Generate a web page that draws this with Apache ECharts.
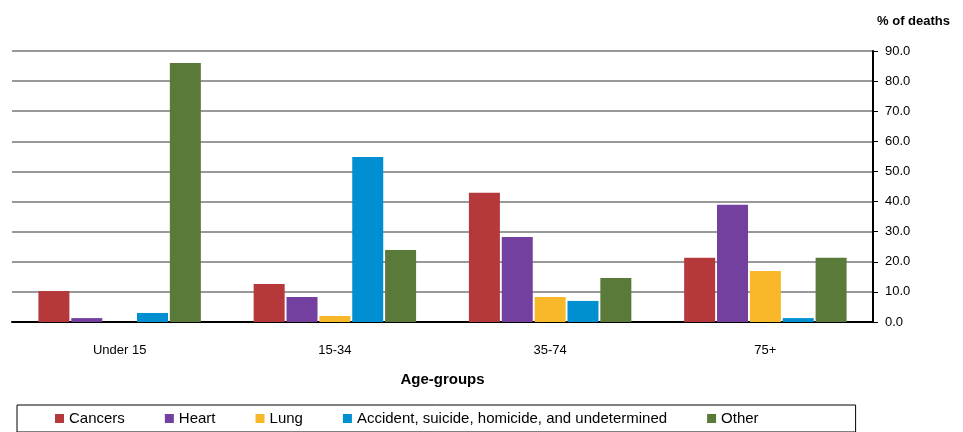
<!DOCTYPE html>
<html>
<head>
<meta charset="utf-8" />
<script src="https://cdn.jsdelivr.net/npm/echarts@6/dist/echarts.min.js"></script>
<style>
  html, body { margin: 0; padding: 0; background: #fff; }
  #main { width: 963px; height: 432px; }
</style>
</head>
<body>
<div id="main"></div>
<script>
var categories = ['Under 15', '15-34', '35-74', '75+'];
var cancers = [10.3, 12.6, 42.9, 21.3];
var heart = [1.3, 8.3, 28.2, 38.9];
var lung = [0, 2.0, 8.3, 16.9];
var accident = [3.0, 54.8, 7.0, 1.3];
var other = [86.0, 23.9, 14.6, 21.3];

var chart = echarts.init(document.getElementById('main'));
function s(name, data, color) {
  return { name: name, type: 'bar', data: data, barWidth: 31, barGap: '6%',
    itemStyle: { color: color }, emphasis: { disabled: true } };
}
chart.setOption({
  animation: false,
  textStyle: { fontFamily: 'Arial, Liberation Sans, sans-serif' },
  grid: { left: 12, right: 90, top: 51, bottom: 110 },
  title: { text: '% of deaths', right: 8, top: 10,
    textStyle: { fontSize: 13, fontWeight: 'bold', color: '#000' } },
  legend: {
    left: 17, bottom: 0, itemWidth: 9, itemHeight: 9, itemGap: 40,
    icon: 'rect', borderColor: '#000', borderWidth: 1, padding: [6, 97, 6, 38],
    textStyle: { fontSize: 15, color: '#000' }
  },
  xAxis: {
    type: 'category', data: categories, name: 'Age-groups', nameLocation: 'middle', nameGap: 50,
    nameTextStyle: { fontSize: 15, fontWeight: 'bold', color: '#000' },
    axisLine: { lineStyle: { color: '#000', width: 2 } },
    axisTick: { show: false },
    axisLabel: { fontSize: 13, color: '#000', margin: 22 }
  },
  yAxis: {
    type: 'value', position: 'right', min: 0, max: 90, interval: 10,
    axisLine: { show: true, lineStyle: { color: '#000', width: 2 } },
    axisTick: { show: true, inside: false, length: 5, lineStyle: { color: '#000' } },
    axisLabel: { fontSize: 13, color: '#000', margin: 12, formatter: function (v) { return v.toFixed(1); } },
    splitLine: { lineStyle: { color: '#999', width: 2 } }
  },
  series: [
    s('Cancers', cancers, '#B5383B'),
    s('Heart', heart, '#7340A0'),
    s('Lung', lung, '#F9B82A'),
    s('Accident, suicide, homicide, and undetermined', accident, '#0090D2'),
    s('Other', other, '#5A7A3A')
  ]
});
</script>
</body>
</html>
